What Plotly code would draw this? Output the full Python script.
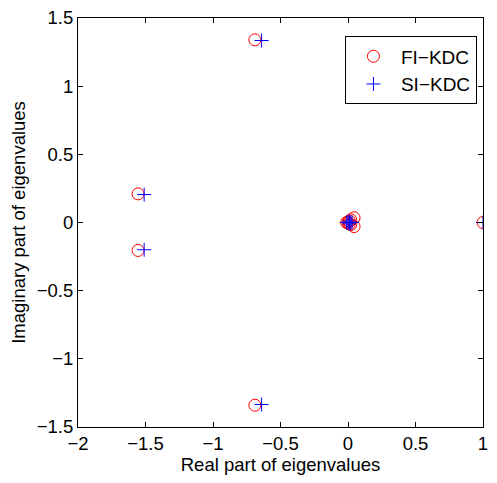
import plotly.graph_objects as go

# FI-KDC eigenvalues (circles)
fi_real = [-0.69, -0.69, -1.555, -1.555, 0.0, 0.01, 0.01, 0.02, 0.02, 0.045, 0.045, -0.01, 1.0]
fi_imag = [1.34, -1.34, 0.21, -0.205, 0.0, 0.01, -0.01, 0.02, -0.015, 0.035, -0.03, 0.0, 0.0]

# SI-KDC eigenvalues (plus signs)
si_real = [-0.64, -0.64, -1.51, -1.51, 0.0, 0.01, 0.01, 0.02, 0.03, -0.01, 1.0]
si_imag = [1.335, -1.335, 0.205, -0.2, 0.0, 0.01, -0.01, 0.0, 0.0, 0.0, 0.0]

x_ticks = [-2, -1.5, -1, -0.5, 0, 0.5, 1]
y_ticks = [-1.5, -1, -0.5, 0, 0.5, 1, 1.5]

fig = go.Figure()
fig.add_trace(go.Scatter(
    x=fi_real, y=fi_imag, mode="markers", name="FI\u2212KDC",
    marker=dict(symbol="circle-open", size=12, color="red", line=dict(width=1, color="red")),
))
fig.add_trace(go.Scatter(
    x=si_real, y=si_imag, mode="markers", name="SI\u2212KDC",
    marker=dict(symbol="cross-thin-open", size=10, color="blue", line=dict(width=1, color="blue")),
))

axis_common = dict(
    showgrid=False, zeroline=False, showline=True, linecolor="black", linewidth=1,
    mirror="allticks", ticks="inside", ticklen=5, tickcolor="black",
    tickfont=dict(size=18.5, color="black"), automargin=False,
    ticklabeloverflow="allow",
)

fig.update_layout(
    width=481, height=467,
    margin=dict(l=70, r=6, t=10, b=48, autoexpand=False),
    paper_bgcolor="white", plot_bgcolor="white",
    font=dict(family="Liberation Sans, Arial, sans-serif", size=18.5, color="black"),
    xaxis=dict(range=[-2, 1], tickvals=x_ticks,
               title=dict(text="Real part of eigenvalues", standoff=2, font=dict(size=18.5)), **axis_common),
    yaxis=dict(range=[-1.5, 1.5], tickvals=y_ticks,
               title=dict(text="Imaginary part of eigenvalues", standoff=10, font=dict(size=18.5)), **axis_common),
    legend=dict(
        x=0.985, y=0.955, xanchor="right", yanchor="top",
        bordercolor="black", borderwidth=1, bgcolor="white",
        font=dict(size=19, color="black"), itemwidth=45,
    ),
    showlegend=True,
)

fig.write_html("out.html")
